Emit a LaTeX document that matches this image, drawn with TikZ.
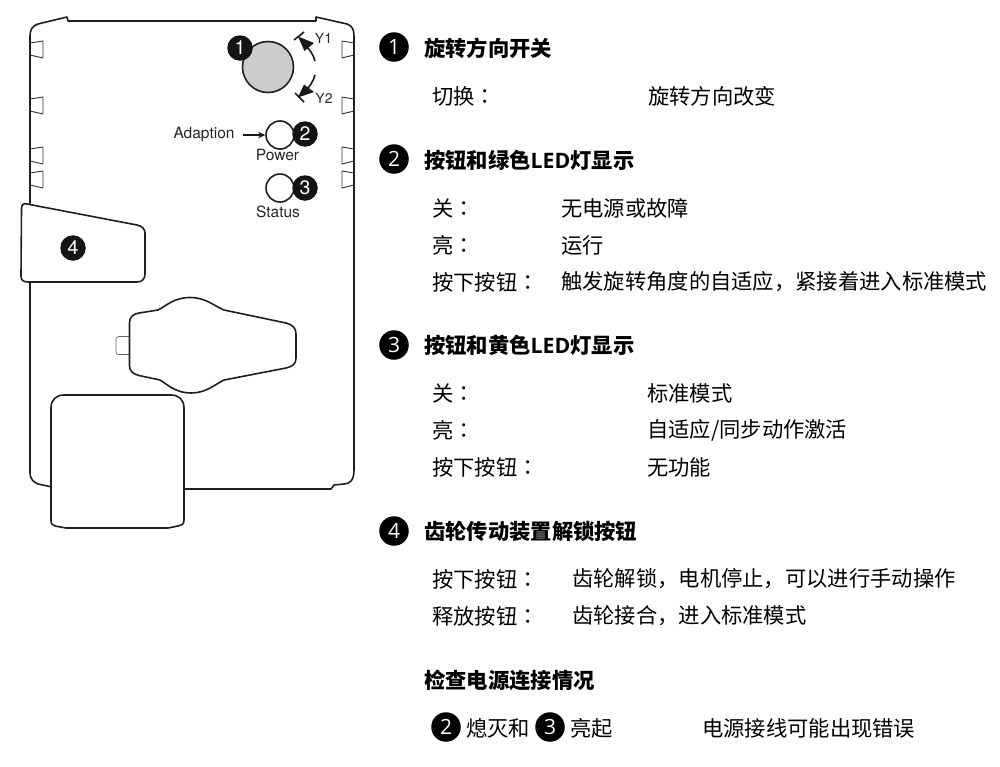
\documentclass[tikz,border=0pt]{standalone}
\usepackage{fontspec}
\usetikzlibrary{arrows.meta}
\setmainfont{Noto Sans CJK SC}
\newfontfamily\latinlabel{TeX Gyre Heros}
\newfontfamily\digitfont{Open Sans}
\newfontfamily\tccolon{Noto Sans CJK TC}
\newcommand{\cln}{{\tccolon ：}}
\newcommand{\ledword}{{\digitfont\bfseries LED}}
\tikzset{
  outline/.style={draw=black!88,line width=1.6pt,line join=round},
  dot/.style={circle,fill=black!92,inner sep=0pt,minimum size=25.5pt,text=white,font=\latinlabel\fontsize{19.5}{19.5}\selectfont},
  bigdot/.style={circle,fill=black,inner sep=0pt,minimum size=29.5pt,text=white,font=\digitfont\fontsize{21}{21}\selectfont},
  led/.style={circle,draw=black!88,fill=white,line width=1.6pt,inner sep=0pt,minimum size=28pt},
  lbl/.style={inner sep=0pt,text=black!85,font=\latinlabel\fontsize{15.5}{15.5}\selectfont},
  ylbl/.style={inner sep=0pt,text=black!85,font=\latinlabel\fontsize{14}{14}\selectfont},
  head/.style={anchor=west,inner sep=0pt,font=\fontsize{21.3}{24}\bfseries\selectfont},
  body/.style={anchor=west,inner sep=0pt,font=\fontsize{21.3}{24}\selectfont},
  tab/.style={draw=black!80,line width=0.9pt,line join=round},
}
\begin{document}
\begin{tikzpicture}[x=1pt,y=-1pt]
\useasboundingbox (0,0) rectangle (1000,766);
% housing
\draw[outline] (30,204) -- (30,36) .. controls (30,30) and (32,26) .. (38,24) -- (67,17) -- (68,21) -- (316,21) -- (316,17) -- (347,24) .. controls (352,26) and (354,29) .. (354,36) -- (354,470) .. controls (354,480) and (350,484) .. (344,484) -- (334,485) -- (331,489) -- (184,489);
\draw[outline] (30,282) -- (30,472) .. controls (30,480) and (34,482) .. (38,484) -- (52,487);
% tabs
\foreach \yy in {49,105,155,179}{
  \draw[tab] (30,\yy-6) -- (43,\yy-8) -- (43,\yy+9) -- (30,\yy+6);
  \draw[tab] (354,\yy-6) -- (342,\yy-8) -- (342,\yy+9) -- (354,\yy+6);
}
% unlock button
\draw[outline,fill=white] (21.5,209) .. controls (21.5,205) and (23,203) .. (27,204) -- (137,225) .. controls (142,226) and (145,229) .. (145,233) -- (145,274) .. controls (145,279) and (142,282) .. (137,282) -- (28,282) .. controls (23,282) and (21,280) .. (21,276) -- cycle;
% motor shape
\draw[draw=black!60,line width=0.7pt] (130,336.5) -- (119,336.5) .. controls (117,336.5) and (116,337.5) .. (116,339) -- (116,352) .. controls (116,354) and (117,354.5) .. (119,354.5) -- (130,354.5);
\draw[outline] (129.5,323) .. controls (129.5,317) and (133,314) .. (139,313) -- (158,310) .. controls (166,306) and (174,297.5) .. (190,297.5) .. controls (206,297.5) and (214,306) .. (224,310) -- (286,323) .. controls (293,325) and (296,328) .. (296,334) -- (296,358) .. controls (296,364) and (293,366) .. (286,368) -- (224,380) .. controls (214,385) and (206,393) .. (191,393) .. controls (176,393) and (168,385) .. (160,380) -- (139,375.5) .. controls (133,374) and (129.5,371) .. (129.5,366) -- cycle;
% terminal block
\draw[outline,fill=white] (51,408) .. controls (51,400) and (56,395) .. (64,395) -- (171,395) .. controls (179,395) and (184,400) .. (184,408) -- (184,520) .. controls (184,524) and (182,525) .. (178,526) -- (168,528) -- (66,528) -- (55,526) .. controls (52,525) and (51,524) .. (51,520) -- cycle;
% knob
\node[circle,draw=black!88,fill=black!20,line width=1.6pt,inner sep=0pt,minimum size=51pt] (knob) at (268,67) {};
\node[dot] (n1) at (240,48) {1};
% direction arrows
\coordinate (y1s) at (315,61); \coordinate (y1e) at (298,36.5);
\coordinate (y2s) at (315,75); \coordinate (y2e) at (298,97.5);
\coordinate (y1a) at (294,40); \coordinate (y1b) at (304,32);
\coordinate (y2a) at (295,93); \coordinate (y2b) at (304,102);
\draw[black!90,line width=1.6pt] (y1a) -- (y1b);
\draw[black!90,line width=1.6pt] (y2a) -- (y2b);
\draw[black!90,line width=1.6pt] (y1s) .. controls (313,54) and (310,50) .. (306,46);
\draw[black!90,line width=1.6pt] (y2s) .. controls (313,82) and (310,86) .. (306,90);
\fill[black!90] (y1e) -- (314,43) -- (304.5,51) -- cycle;
\fill[black!90] (y2e) -- (314,92) -- (304,84.5) -- cycle;
\node[ylbl] (y1) at (323.5,38) {Y1};
\node[ylbl] (y2) at (324,98.5) {Y2};
% LEDs
\node[led] (led2) at (280,135) {};
\node[dot] (n2) at (305,134) {2};
\node[lbl] (power) at (277.5,155) {Power};
\node[lbl] (adapt) at (204,134.5) {Adaption};
\draw[-{Stealth[length=7pt,width=6.5pt]},black!90,line width=1.3pt] (adapt.east) ++(8,0.5) -- (led2.west);
\node[led] (led3) at (280,188) {};
\node[dot] (n3) at (305,188) {3};
\node[lbl] (status) at (278,212) {Status};
\node[dot] (n4) at (73,248) {4};
% right column
\node[bigdot] (d1) at (394,47) {1};
\node[head] (h1) at (424,48) {旋转方向开关};
\node[body] (t1a) at (432,96) {切换\cln};
\node[body] (t1b) at (648,96) {旋转方向改变};
\node[bigdot] (d2) at (394,159) {2};
\node[head] (h2) at (424,160) {按钮和绿色\ledword 灯显示};
\node[body] (t2a) at (432,208) {关\cln};
\node[body] (t2b) at (561,208) {无电源或故障};
\node[body] (t2c) at (432,245) {亮\cln};
\node[body] (t2d) at (561,245) {运行};
\node[body] (t2e) at (432,282) {按下按钮\cln};
\node[body] (t2f) at (561,282) {触发旋转角度的自适应，紧接着进入标准模式};
\node[bigdot] (d3) at (394,345) {3};
\node[head] (h3) at (424,345) {按钮和黄色\ledword 灯显示};
\node[body] (t3a) at (432,393) {关\cln};
\node[body] (t3b) at (647,393) {标准模式};
\node[body] (t3c) at (432,430) {亮\cln};
\node[body] (t3d) at (647,430) {自适应/同步动作激活};
\node[body] (t3e) at (432,467) {按下按钮\cln};
\node[body] (t3f) at (647,467) {无功能};
\node[bigdot] (d4) at (394,531) {4};
\node[head] (h4) at (424,531) {齿轮传动装置解锁按钮};
\node[body] (t4a) at (432,579) {按下按钮\cln};
\node[body] (t4b) at (572,579) {齿轮解锁，电机停止，可以进行手动操作};
\node[body] (t4c) at (432,616) {释放按钮\cln};
\node[body] (t4d) at (572,616) {齿轮接合，进入标准模式};
\node[head] (h5) at (424,680) {检查电源连接情况};
\node[bigdot] (d5) at (446,727) {2};
\node[body] (t5a) at (466,728) {熄灭和};
\node[bigdot] (d6) at (550,727) {3};
\node[body] (t5b) at (570,728) {亮起};
\node[body] (t5c) at (702,728) {电源接线可能出现错误};
\end{tikzpicture}
\end{document}
